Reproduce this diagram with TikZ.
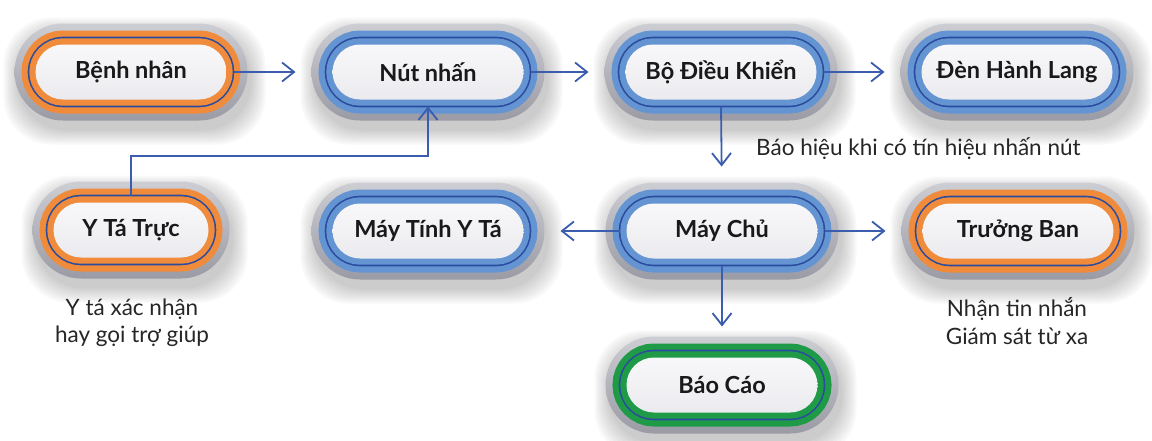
\documentclass[tikz,border=0pt]{standalone}
\usepackage{fontspec}
\setmainfont{Lato}
\usetikzlibrary{arrows.meta,backgrounds,calc}
\definecolor{ringblue}{HTML}{6494D2}
\definecolor{ringorange}{HTML}{EF8B3B}
\definecolor{ringgreen}{HTML}{1F9A47}
\definecolor{lineblue}{HTML}{2A4C9E}
\definecolor{connblue}{HTML}{3A5DAE}
\definecolor{greyTop}{HTML}{CDCDD4}
\definecolor{greyBot}{HTML}{9B9BA5}
\definecolor{innerTop}{HTML}{F8F8FA}
\definecolor{innerBot}{HTML}{EBEBEF}
\tikzset{
  pill/.style={rectangle, rounded corners=27.5pt, minimum width=#1, minimum height=55pt,
    inner sep=0pt, outer sep=7pt, font=\bfseries\fontsize{23.5}{27}\selectfont, text=black!90,
    top color=innerTop, bottom color=innerBot},
  pill/.default=191pt,
  ringed/.style={preaction={draw=#1, line width=28pt},
    preaction={draw=lineblue, line width=15.6pt},
    preaction={draw=#1, line width=12.4pt}},
  lbl/.style={font=\fontsize{22.5}{27.5}\selectfont, text=black!85, align=center, inner sep=0pt},
  conn/.style={draw=connblue, line width=1.8pt, -{Straight Barb[length=12pt,width=19pt]}},
  gap/.style={shorten >=30pt},
}
\begin{document}
\begin{tikzpicture}[x=1pt,y=-1pt]
\useasboundingbox (0,0) rectangle (1152,440);
% nodes
\node[pill, ringed=ringorange] (benh) at (131,72) {Bệnh nhân};
\node[pill, ringed=ringblue] (nut) at (428,72) {Nút nhấn};
\node[pill, ringed=ringblue] (bdk) at (721,72) {Bộ Điều Khiển};
\node[pill, ringed=ringblue] (den) at (1017,72) {Đèn Hành Lang};
\node[pill=155pt, ringed=ringorange] (yta) at (131,230) {Y Tá Trực};
\node[pill, ringed=ringblue] (mtyt) at (428,231) {Máy Tính Y Tá};
\node[pill, ringed=ringblue] (maychu) at (722,231) {Máy Chủ};
\node[pill, ringed=ringorange] (truong) at (1018,231) {Trưởng Ban};
\node[pill, ringed=ringgreen] (baocao) at (722,385) {Báo Cáo};
% background: shadows and grey rims
\begin{scope}[on background layer]
\foreach \n in {benh,nut,bdk,den,yta,mtyt,maychu,truong,baocao}{
  \foreach \k in {0,2,...,14}{
    \fill[black, opacity=0.028, rounded corners=48pt]
      ([shift={(-11pt-\k pt,-24pt-\k pt)}]\n.south west) rectangle
      ([shift={(18pt+\k pt,6pt+\k pt)}]\n.north east);
  }
  \shade[top color=greyTop, bottom color=greyBot, rounded corners=48.5pt]
    ([shift={(-14pt,-14pt)}]\n.south west) rectangle ([shift={(14pt,14pt)}]\n.north east);
}
\end{scope}
% connectors
\draw[conn, gap] (benh.east) -- (nut.west);
\draw[conn, gap] (nut.east) -- (bdk.west);
\draw[conn, gap] (bdk.east) -- (den.west);
\draw[conn, gap] (bdk.south) -- (maychu.north);
\draw[conn, gap] (maychu.west) -- (mtyt.east);
\draw[conn, gap] (maychu.east) -- (truong.west);
\draw[conn, shorten >=24pt] (maychu.south) -- (baocao.north);
\coordinate (turn) at (0,156);
\draw[conn] (yta.north) |- (nut.south |- turn) -- (nut.south);
% labels
\node[lbl, anchor=west] (l1) at (756,149) {Báo hiệu khi có tín hiệu nhấn nút};
\node[lbl] (l2) at (132,323) {Y tá xác nhận\\hay gọi trợ giúp};
\node[lbl] (l3) at (1017,321) {Nhận tin nhắn\\Giám sát từ xa};
\end{tikzpicture}
\end{document}
